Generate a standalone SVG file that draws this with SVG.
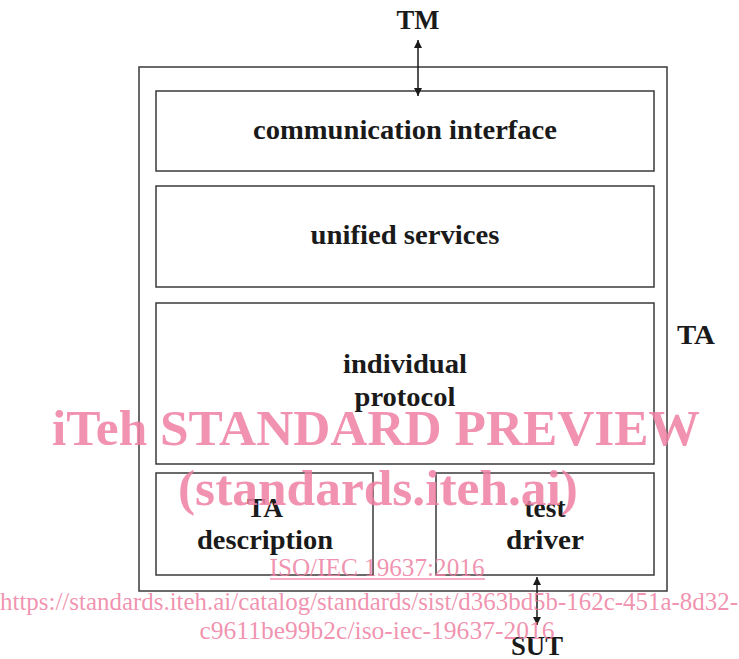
<svg xmlns="http://www.w3.org/2000/svg" width="739" height="659" viewBox="0 0 739 659">
<style>
.box{fill:none;stroke:#3a3a3a;stroke-width:1.5}
.lbl{font-family:"Liberation Serif","Times New Roman",serif;font-weight:bold;font-size:27px;fill:#1a1a1a;text-anchor:middle}
.wm{font-family:"Liberation Serif","Times New Roman",serif;fill:#ee7fa2;fill-opacity:0.85}
.conn{stroke:#1a1a1a;stroke-width:1.5;fill:none}
</style>
<defs>
<marker id="ah" viewBox="0 0 10 10" refX="10" refY="5" markerWidth="9" markerHeight="8" markerUnits="userSpaceOnUse" orient="auto-start-reverse">
<path d="M0,0 L10,5 L0,10 z" fill="#1a1a1a"/>
</marker>
</defs>
<g id="TA">
<rect class="box" x="139" y="67" width="528" height="524"/>
<text class="lbl" x="696" y="344" textLength="38" lengthAdjust="spacingAndGlyphs">TA</text>
</g>
<g id="communication-interface">
<rect class="box" x="156" y="91" width="498" height="80"/>
<text class="lbl" x="405" y="139" textLength="304" lengthAdjust="spacingAndGlyphs">communication interface</text>
</g>
<g id="unified-services">
<rect class="box" x="156" y="186" width="498" height="101"/>
<text class="lbl" x="405" y="244" textLength="189" lengthAdjust="spacingAndGlyphs">unified services</text>
</g>
<g id="individual-protocol">
<rect class="box" x="156" y="303" width="498" height="161"/>
<text class="lbl" x="405" y="373" textLength="124" lengthAdjust="spacingAndGlyphs">individual</text>
<text class="lbl" x="405" y="406" textLength="101" lengthAdjust="spacingAndGlyphs">protocol</text>
</g>
<g id="ta-description">
<rect class="box" x="156" y="473" width="217" height="102"/>
<text class="lbl" x="265" y="517" textLength="36" lengthAdjust="spacingAndGlyphs">TA</text>
<text class="lbl" x="265" y="549" textLength="136" lengthAdjust="spacingAndGlyphs">description</text>
</g>
<g id="test-driver">
<rect class="box" x="436" y="473" width="218" height="102"/>
<text class="lbl" x="545" y="517" textLength="41" lengthAdjust="spacingAndGlyphs">test</text>
<text class="lbl" x="545" y="549" textLength="78" lengthAdjust="spacingAndGlyphs">driver</text>
</g>
<g id="TM">
<text class="lbl" x="418" y="29" textLength="43" lengthAdjust="spacingAndGlyphs">TM</text>
</g>
<g id="SUT">
<text class="lbl" x="537" y="655" textLength="52" lengthAdjust="spacingAndGlyphs">SUT</text>
</g>
<g id="connectors">
<line class="conn" x1="418" y1="40" x2="418" y2="96" marker-start="url(#ah)" marker-end="url(#ah)"/>
<line class="conn" x1="537" y1="577" x2="537" y2="625" marker-start="url(#ah)" marker-end="url(#ah)"/>
</g>
<g id="watermark">
<text class="wm" x="376" y="445" font-size="50" font-weight="bold" text-anchor="middle" textLength="648" lengthAdjust="spacingAndGlyphs">iTeh STANDARD PREVIEW</text>
<text class="wm" x="378" y="505" font-size="50" font-weight="bold" text-anchor="middle" textLength="400" lengthAdjust="spacingAndGlyphs">(standards.iteh.ai)</text>
<text class="wm" x="377" y="576" font-size="25" text-anchor="middle" textLength="215" lengthAdjust="spacingAndGlyphs">ISO/IEC 19637:2016</text>
<line x1="270" y1="579" x2="485" y2="579" stroke="#ee7fa2" stroke-opacity="0.85" stroke-width="1.5"/>
<text class="wm" x="369" y="610" font-size="25" text-anchor="middle" textLength="738" lengthAdjust="spacingAndGlyphs">https://standards.iteh.ai/catalog/standards/sist/d363bd5b-162c-451a-8d32-</text>
<text class="wm" x="377" y="639" font-size="25" text-anchor="middle" textLength="355" lengthAdjust="spacingAndGlyphs">c9611be99b2c/iso-iec-19637-2016</text>
</g>
</svg>
